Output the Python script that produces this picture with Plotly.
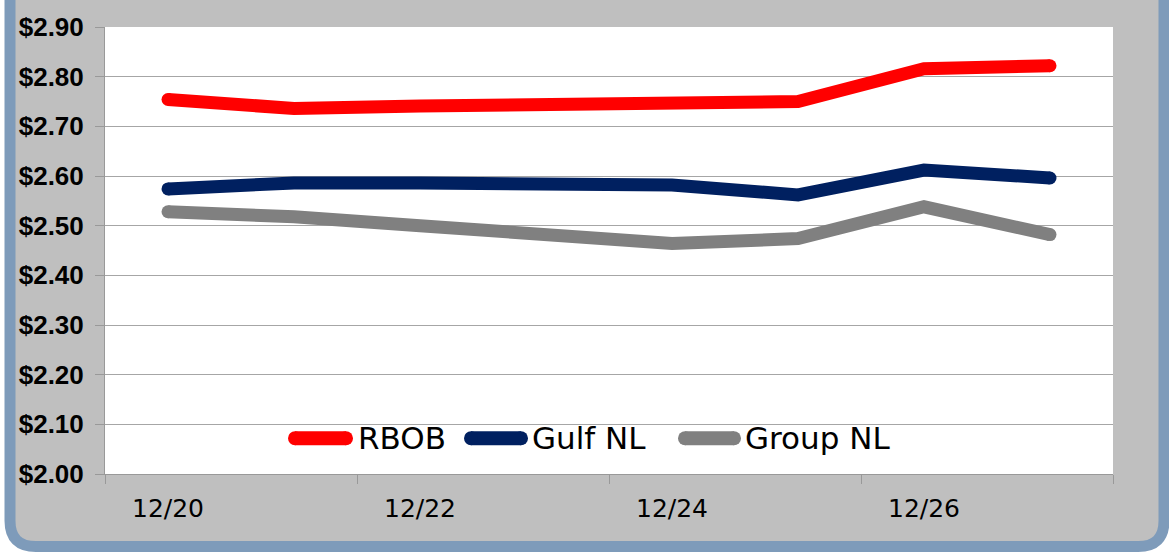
import plotly.graph_objects as go

dates = ["12/20", "12/21", "12/22", "12/23", "12/24", "12/25", "12/26", "12/27"]
rbob = [2.754, 2.736, 2.741, 2.746, 2.750, 2.750, 2.816, 2.822]
gulf_nl = [2.574, 2.586, 2.586, 2.585, 2.582, 2.562, 2.612, 2.596]
group_nl = [2.528, 2.518, 2.500, 2.483, 2.464, 2.474, 2.538, 2.482]
series_names = ["RBOB", "Gulf NL", "Group NL"]
series_colors = ["#FF0000", "#002060", "#808080"]
y_ticks = [2.00, 2.10, 2.20, 2.30, 2.40, 2.50, 2.60, 2.70, 2.80, 2.90]

W, H = 1169, 555
L, R, T, B = 105, 1113, 24, 474


def px(x):
    return (x - L) / (R - L)


def py(y):
    return (B - y) / (B - T)


x_idx = list(range(len(dates)))
fig = go.Figure()
for name, vals, col in zip(series_names, [rbob, gulf_nl, group_nl], series_colors):
    # line
    fig.add_trace(go.Scatter(
        x=x_idx, y=vals, name=name, mode="lines",
        line=dict(color=col, width=13), showlegend=False,
    ))
    # round end caps
    fig.add_trace(go.Scatter(
        x=[x_idx[0], x_idx[-1]], y=[vals[0], vals[-1]], mode="markers",
        marker=dict(size=13, color=col, opacity=1, line=dict(width=0)),
        showlegend=False, hoverinfo="skip",
    ))

# frame: rounded rectangle
x0, x1, y0, y1, r = 10, 1164, -40, 547, 26
path = (f"M {px(x0+r)},{py(y0)} L {px(x1-r)},{py(y0)} Q {px(x1)},{py(y0)} {px(x1)},{py(y0+r)} "
        f"L {px(x1)},{py(y1-r)} Q {px(x1)},{py(y1)} {px(x1-r)},{py(y1)} "
        f"L {px(x0+r)},{py(y1)} Q {px(x0)},{py(y1)} {px(x0)},{py(y1-r)} "
        f"L {px(x0)},{py(y0+r)} Q {px(x0)},{py(y0)} {px(x0+r)},{py(y0)} Z")
shapes = [
    dict(type="path", xref="paper", yref="paper", path=path, layer="below",
         fillcolor="#BFBFBF", line=dict(color="#7E9BBA", width=11)),
    dict(type="rect", xref="paper", yref="paper", x0=0, x1=1, y0=0, y1=1, layer="below",
         fillcolor="white", line=dict(width=0)),
]

# custom legend
leg_y = py(438)
leg_items = [(288, 353, 356), (464, 528, 530), (678, 741, 743)]
annotations = []
for (sx0, sx1, tx), name, col in zip(leg_items, series_names, series_colors):
    shapes.append(dict(type="line", xref="paper", yref="paper", x0=px(sx0 + 7), x1=px(sx1 - 7),
                       y0=leg_y, y1=leg_y, line=dict(color=col, width=14), layer="above"))
    annotations.append(dict(xref="paper", yref="paper", x=px(tx), y=leg_y, text=name,
                            xanchor="left", yanchor="middle", showarrow=False,
                            font=dict(family="DejaVu Sans", size=31, color="black")))
for (sx0, sx1, tx), col in zip(leg_items, series_colors):
    for cx in (sx0 + 7, sx1 - 7):
        shapes.append(dict(type="circle", xref="paper", yref="paper",
                           x0=px(cx - 7), x1=px(cx + 7), y0=py(438 + 7), y1=py(438 - 7),
                           fillcolor=col, line=dict(width=0), layer="above"))

fig.update_layout(
    width=W, height=H,
    margin=dict(l=L, r=W - R, t=T, b=H - B),
    paper_bgcolor="white", plot_bgcolor="rgba(0,0,0,0)",
    shapes=shapes, annotations=annotations,
    xaxis=dict(
        range=[-0.5, len(dates) - 0.5],
        tickvals=x_idx[::2], ticktext=dates[::2],
        ticks="", showgrid=False, zeroline=False,
        showline=True, linecolor="#999999", linewidth=1,
        tickfont=dict(family="DejaVu Sans", size=25, color="black"),
        minor=dict(tickvals=[-0.5, 1.5, 3.5, 5.5, 7.5], ticks="outside", ticklen=9,
                   tickcolor="#999999", tickwidth=1, showgrid=False),
        ticklabelstandoff=12,
    ),
    yaxis=dict(
        range=[2.0, 2.9], tickvals=y_ticks,
        ticktext=[f"${v:.2f}" for v in y_ticks],
        ticks="outside", ticklen=9, tickcolor="#999999",
        showgrid=True, gridcolor="#A6A6A6", gridwidth=1.3,
        showline=True, linecolor="#999999", linewidth=1, zeroline=False,
        tickfont=dict(family="Liberation Sans", size=26, color="black", weight="bold"),
        ticklabelstandoff=6,
    ),
)
fig.write_html("out.html", config={"displayModeBar": False},
               post_script="document.body.style.margin='0';document.body.style.overflow='hidden';")
